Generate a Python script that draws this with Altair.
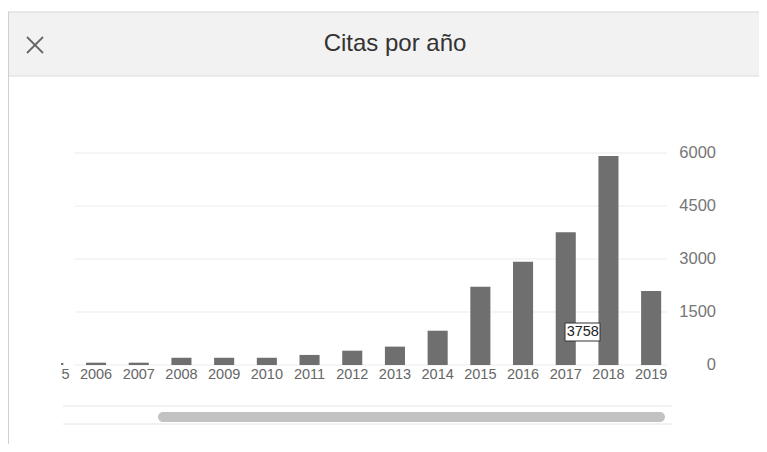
import altair as alt
import pandas as pd

# ---- data ----
years = list(range(2005, 2020))
citas = [55, 65, 65, 205, 205, 205, 285, 405, 520, 970, 2215, 2925, 3758, 5915, 2095]
grid_values = [0, 1500, 3000, 4500, 6000]
grid_labels = ["0", "1500", "3000", "4500", "6000"]
title_text = "Citas por año"
tooltip_year = 2017
tooltip_value = 3758

FONT = "Liberation Sans, Arial, Helvetica, sans-serif"

bars_df = pd.DataFrame({"year": [str(y) for y in years], "citas": citas})
grid_df = pd.DataFrame({"v": grid_values, "label": grid_labels})
tip_df = pd.DataFrame({"year": [str(tooltip_year)], "citas": [tooltip_value]})
one = pd.DataFrame({"k": [0]})

# plot area: page x 61..672, y 140..390
xscale = alt.Scale(domain=[str(y) for y in years], range=[-29, 611.5],
                   paddingInner=0.53, paddingOuter=0.265)
yscale = alt.Scale(domain=[0, 6000], range=[225, 13], nice=False, zero=True)

X = alt.X("year:O", scale=xscale, axis=None)

def val(v):
    return alt.value(v)

# dialog header
header = alt.Chart(one).mark_rect(color="#f2f2f2").encode(
    x=val(-53), x2=val(698), y=val(-128), y2=val(-64))
header_top = alt.Chart(one).mark_rule(color="#d6d6d6", strokeWidth=1).encode(
    x=val(-53), x2=val(698), y=val(-128))
header_bot = alt.Chart(one).mark_rule(color="#dddddd", strokeWidth=1).encode(
    x=val(-53), x2=val(698), y=val(-64))
left_border = alt.Chart(one).mark_rule(color="#d0d0d0", strokeWidth=1).encode(
    x=val(-52.5), y=val(-128), y2=val(310))

title = alt.Chart(one).mark_text(
    text=title_text, font=FONT, fontSize=24, color="#333333",
    align="center", baseline="middle").encode(x=val(334), y=val(-96))

close1 = alt.Chart(one).mark_rule(color="#666666", strokeWidth=1.8).encode(
    x=val(-34), y=val(-103), x2=val(-18), y2=val(-87))
close2 = alt.Chart(one).mark_rule(color="#666666", strokeWidth=1.8).encode(
    x=val(-18), y=val(-103), x2=val(-34), y2=val(-87))

grid = alt.Chart(grid_df).mark_rule(color="#ebebeb", strokeWidth=1).encode(
    y=alt.Y("v:Q", scale=yscale, axis=None), x=val(14), x2=val(606))

bars = alt.Chart(bars_df).mark_bar(color="#6f6f6f", clip=True).encode(
    x=X, y=alt.Y("citas:Q", scale=yscale, axis=None))

xlabels = alt.Chart(bars_df).mark_text(
    font=FONT, fontSize=14.5, color="#666666", baseline="middle",
    align="center", clip=True).encode(x=X, y=val(235), text="year:N")

ylabels = alt.Chart(grid_df).mark_text(
    font=FONT, fontSize=16.5, color="#767676", align="right",
    baseline="middle").encode(
    y=alt.Y("v:Q", scale=yscale, axis=None), x=val(655), text="label:N")

track_top = alt.Chart(one).mark_rule(color="#e4e4e4").encode(
    x=val(2), x2=val(611), y=val(266))
track_bot = alt.Chart(one).mark_rule(color="#e4e4e4").encode(
    x=val(2), x2=val(611), y=val(284))
thumb = alt.Chart(one).mark_rect(color="#c2c2c2", cornerRadius=5).encode(
    x=val(97), x2=val(604), y=val(272), y2=val(282))

tip_box = alt.Chart(one).mark_rect(fill="white", stroke="#333333",
                                   strokeWidth=1).encode(
    x=val(504), x2=val(539), y=val(183), y2=val(201))
tip_text = alt.Chart(tip_df).mark_text(
    font=FONT, fontSize=14.5, color="#222222", align="center",
    baseline="middle", dx=17).encode(x=X, y=val(192), text="citas:Q")

chart = alt.layer(
    header, header_top, header_bot, left_border, title, close1, close2,
    grid, bars, xlabels, ylabels, track_top, track_bot, thumb,
    tip_box, tip_text
).properties(
    width=611, height=250,
    padding={"left": 53, "top": 132, "right": 87, "bottom": 54},
    autosize=alt.AutoSizeParams(type="none"),
    background="white",
).configure_view(stroke=None)

chart.save("out.html", embed_options={"renderer": "svg", "actions": False})
